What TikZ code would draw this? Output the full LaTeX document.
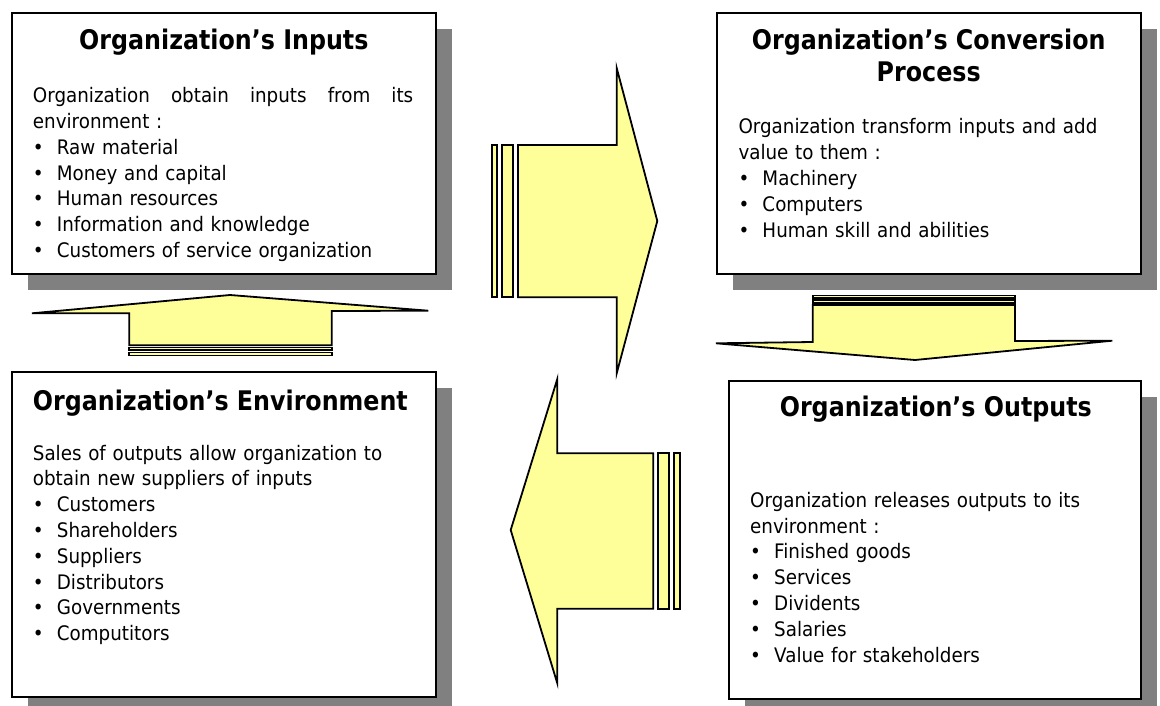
\documentclass[tikz,border=0pt]{standalone}
\usepackage{fontspec}
\setmainfont{DejaVu Sans}[FakeStretch=0.915]
\newfontfamily\titlefont{DejaVu Sans}[FakeStretch=0.88]
\usetikzlibrary{shadows}
\definecolor{arrowfill}{HTML}{FFFF99}
\definecolor{shadowgray}{HTML}{808080}
\tikzset{
  box/.style={draw=black, line width=1.9pt, fill=white, inner sep=0pt,
    copy shadow={shadow xshift=16pt, shadow yshift=-16pt, fill=shadowgray, draw=none}},
  blockarrow/.style={draw=black, line width=1.8pt, fill=arrowfill, line join=miter},
  titletext/.style={inner sep=0pt, font=\titlefont\fontsize{27}{33}\selectfont\bfseries},
  bodytext/.style={inner sep=0pt, anchor=base west, align=left, font=\fontsize{20}{25.8}\selectfont}
}
\newcommand{\bul}{\makebox[24pt][l]{\textbullet}}
\begin{document}
\begin{tikzpicture}[x=1pt,y=-1pt]
\useasboundingbox (0,0) rectangle (1160,706);
% boxes
\node[box, minimum width=423.7pt, minimum height=261.3pt] (inputs) at (223.85,143.35) {};
\node[box, minimum width=424pt, minimum height=261.3pt] (conversion) at (928.7,143.35) {};
\node[box, minimum width=423.7pt, minimum height=325.6pt] (environment) at (223.85,534.5) {};
\node[box, minimum width=412pt, minimum height=318.6pt] (outputs) at (934.7,540) {};
% titles
\node[titletext, anchor=base] (t1) at (223.85,50) {Organization’s Inputs};
\node[titletext, anchor=base] (t2a) at (928.7,50) {Organization’s Conversion};
\node[titletext, anchor=base] (t2b) at (928.7,81.7) {Process};
\node[titletext, anchor=base west] (t3) at (32.7,410) {Organization’s Environment};
\node[titletext, anchor=base] (t4) at (935.8,416.7) {Organization’s Outputs};
% bodies
\node[bodytext, text width=390pt] (b1) at (32.7,102.7) {\hbox to 380.3pt{Organization\hfill obtain\hfill inputs\hfill from\hfill its}\\
environment :\\
\bul Raw material\\
\bul Money and capital\\
\bul Human resources\\
\bul Information and knowledge\\
\bul Customers of service organization};
\node[bodytext, text width=390pt] (b2) at (738.3,134) {Organization transform inputs and add\\
value to them :\\
\bul Machinery\\
\bul Computers\\
\bul Human skill and abilities};
\node[bodytext, text width=390pt] (b3) at (32.7,460) {Sales of outputs allow organization to\\
obtain new suppliers of inputs\\
\bul Customers\\
\bul Shareholders\\
\bul Suppliers\\
\bul Distributors\\
\bul Governments\\
\bul Computitors};
\node[bodytext, text width=380pt] (b4) at (750,507.3) {Organization releases outputs to its\\
environment :\\
\bul Finished goods\\
\bul Services\\
\bul Dividents\\
\bul Salaries\\
\bul Value for stakeholders};
% right arrow (inputs -> conversion)
\draw[blockarrow] (492,145) rectangle (497.3,297.3);
\draw[blockarrow] (502.3,145) rectangle (513.3,297.3);
\draw[blockarrow] (518,145) -- (616.7,145) -- (616.7,68) -- (657.3,221) -- (616.7,373.3) -- (616.7,297.3) -- (518,297.3) -- cycle;
% down arrow (conversion -> outputs)
\draw[blockarrow] (812.7,295.5) rectangle (1015,298);
\draw[blockarrow] (812.7,300) rectangle (1015,303);
\draw[blockarrow] (812.7,305) -- (1015,305) -- (1015,341) -- (1112.3,340.7) -- (915,360) -- (716,343.3) -- (812.7,342) -- cycle;
% left arrow (outputs -> environment)
\draw[blockarrow] (674,453.3) rectangle (680,608.7);
\draw[blockarrow] (658.3,453.3) rectangle (669.3,608.7);
\draw[blockarrow] (653.3,453.3) -- (557.3,453.3) -- (557.3,379) -- (510.7,530) -- (557.3,683.3) -- (557.3,608.7) -- (653.3,608.7) -- cycle;
% up arrow (environment -> inputs)
\draw[blockarrow] (129.3,352.5) rectangle (331.7,355.5);
\draw[blockarrow] (129.3,347.5) rectangle (331.7,350.2);
\draw[blockarrow] (129.3,345.2) -- (331.7,345.2) -- (331.7,311) -- (428.3,310.7) -- (230,295) -- (32,313.3) -- (129.3,313.3) -- cycle;
\end{tikzpicture}
\end{document}
